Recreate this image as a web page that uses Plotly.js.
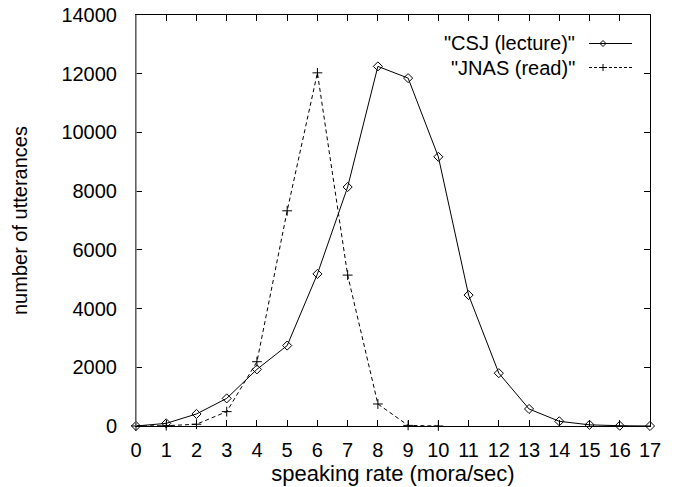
<!DOCTYPE html>
<html>
<head>
<meta charset="utf-8">
<script src="https://cdn.plot.ly/plotly-3.0.1.min.js"></script>
<style>
html,body{margin:0;padding:0;background:#fff;}
#chart{width:674px;height:487px;}
</style>
</head>
<body>
<div id="chart"></div>
<script>
// speaking rate (mora/sec)
const rateCSJ = [0,1,2,3,4,5,6,7,8,9,10,11,12,13,14,15,16,17];
const countCSJ = [0,90,410,940,1930,2740,5180,8140,12250,11850,9170,4460,1800,580,160,40,10,0];
const rateJNAS = [0,1,2,3,4,5,6,7,8,9,10];
const countJNAS = [0,10,60,490,2190,7330,12030,5140,750,20,0];
const seriesNames = ['"CSJ (lecture)"', '"JNAS (read)"'];
const xTickVals = [0,1,2,3,4,5,6,7,8,9,10,11,12,13,14,15,16,17];
const yTickVals = [0,2000,4000,6000,8000,10000,12000,14000];

const FONT = 'Liberation Sans, Arial, Helvetica, sans-serif';

const traces = [
  {
    x: rateCSJ, y: countCSJ, name: seriesNames[0], type: 'scatter', mode: 'lines+markers',
    line: {color: '#000', width: 1},
    marker: {symbol: 'diamond-open', size: 7, color: '#000', line: {color: '#000', width: 1}},
    cliponaxis: false, showlegend: false
  },
  {
    x: rateJNAS, y: countJNAS, name: seriesNames[1], type: 'scatter', mode: 'lines+markers',
    line: {color: '#000', width: 1, dash: '4px,3px'},
    marker: {symbol: 'cross-thin-open', size: 7, color: '#000', line: {color: '#000', width: 1}},
    cliponaxis: false, showlegend: false
  }
];

// plot area in pixels (for legend placement)
const L = 136, R = 650, T = 15, B = 426;
const px = v => (v - L) / (R - L);
const py = v => (B - v) / (B - T);

const legendRows = [
  {y: 43.5, dash: 'solid'},
  {y: 67.5, dash: '3px,2px'}
];

const shapes = [];
const annotations = [];
legendRows.forEach((row, i) => {
  annotations.push({
    xref: 'paper', yref: 'paper', x: px(576), y: py(row.y),
    xanchor: 'right', yanchor: 'middle', showarrow: false, borderpad: 0,
    text: seriesNames[i], font: {family: FONT, size: 20, color: '#000'}
  });
  shapes.push({
    type: 'line', xref: 'paper', yref: 'paper',
    x0: px(589), x1: px(632), y0: py(row.y), y1: py(row.y),
    line: {color: '#000', width: 1, dash: row.dash}
  });
});
// legend point symbols
shapes.push({
  type: 'path', xref: 'paper', yref: 'paper', xsizemode: 'pixel', ysizemode: 'pixel',
  xanchor: px(603), yanchor: py(43.5),
  path: 'M -3 0 L 0 3 L 3 0 L 0 -3 Z',
  line: {color: '#000', width: 1}, fillcolor: 'rgba(0,0,0,0)'
});
shapes.push({
  type: 'path', xref: 'paper', yref: 'paper', xsizemode: 'pixel', ysizemode: 'pixel',
  xanchor: px(603), yanchor: py(67.5),
  path: 'M -3.5 0 L 3.5 0 M 0 -3.5 L 0 3.5',
  line: {color: '#000', width: 1}
});
// greyish left border as in the reference
shapes.push({
  type: 'line', xref: 'paper', yref: 'paper', x0: 0, x1: 0, y0: 0, y1: 1,
  line: {color: '#808080', width: 1.5}, layer: 'above'
});

const layout = {
  width: 674, height: 487,
  margin: {l: L, r: 674 - R, t: T, b: 487 - B},
  paper_bgcolor: '#fff', plot_bgcolor: '#fff',
  font: {family: FONT, size: 20, color: '#000'},
  showlegend: false,
  xaxis: {
    range: [0, 17], tickvals: xTickVals, ticktext: xTickVals.map(String),
    showgrid: false, zeroline: false,
    showline: true, linecolor: '#000', linewidth: 1, mirror: 'ticks',
    ticks: 'inside', ticklen: 6, tickcolor: '#000', tickwidth: 1,
    ticklabelstandoff: 6,
    tickfont: {family: FONT, size: 20, color: '#000'},
    title: {text: 'speaking rate (mora/sec)', font: {family: FONT, size: 22, color: '#000'}, standoff: 2},
    automargin: false
  },
  yaxis: {
    range: [0, 14000], tickvals: yTickVals, ticktext: yTickVals.map(String),
    showgrid: false, zeroline: false,
    showline: true, linecolor: '#000', linewidth: 1, mirror: 'ticks',
    ticks: 'inside', ticklen: 6, tickcolor: '#000', tickwidth: 1,
    ticklabelstandoff: 14,
    tickfont: {family: FONT, size: 20, color: '#000'},
    title: {text: 'number of utterances', font: {family: FONT, size: 20, color: '#000'}, standoff: 28},
    automargin: false
  },
  shapes: shapes,
  annotations: annotations
};

Plotly.newPlot('chart', traces, layout, {displayModeBar: false, staticPlot: true});
</script>
</body>
</html>
